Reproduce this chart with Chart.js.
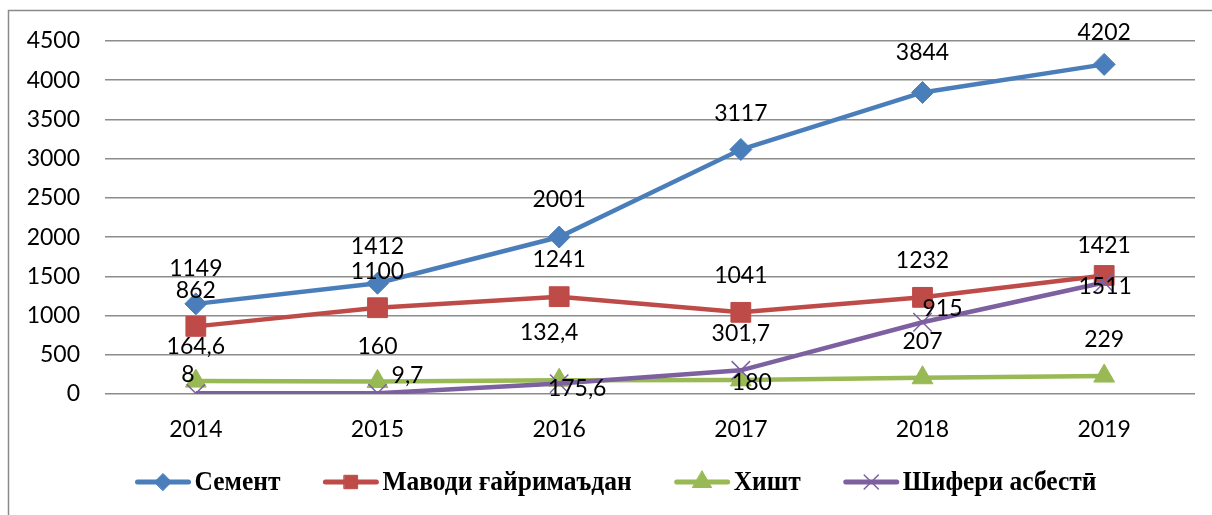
<!DOCTYPE html>
<html>
<head>
<meta charset="utf-8">
<script src="https://cdn.jsdelivr.net/npm/chart.js@4.4.1/dist/chart.umd.min.js"></script>
<style>
  html, body { margin: 0; padding: 0; background: #fff; }
  #wrap { position: relative; width: 1212px; height: 515px; }
</style>
</head>
<body>
<div id="wrap"><canvas id="c"></canvas></div>
<script>
// ---- data ----
const categories = ['2014', '2015', '2016', '2017', '2018', '2019'];
const seriesNames = ['Семент', 'Маводи ғайримаъдан', 'Хишт', 'Шифери асбестӣ'];
const cement  = [1149, 1412, 2001, 3117, 3844, 4202];
const mavodi  = [862, 1100, 1241, 1041, 1232, 1511];
const khisht  = [164.6, 160, 175.6, 180, 207, 229];
const shiferi = [8, 9.7, 132.4, 301.7, 915, 1421];
// data label texts as printed in the original
const cementLabels  = ['1149', '1412', '2001', '3117', '3844', '4202'];
const mavodiLabels  = ['862', '1100', '1241', '1041', '1232', '1421'];
const khishtLabels  = ['164,6', '160', '175,6', '180', '207', '229'];
const shiferiLabels = ['8', '9,7', '132,4', '301,7', '915', '1511'];
const yTicks = [0, 500, 1000, 1500, 2000, 2500, 3000, 3500, 4000, 4500];

// ---- styling ----
const colors = ['#4A7EBB', '#BE4B48', '#98B954', '#7D60A0'];
const labelShift = [
  [[0,-35],[0,-37],[0,-37],[0,-36],[0,-40],[0,-32]],
  [[0,-36],[0,-36],[0,-37],[0,-37],[0,-37],[0,-30]],
  [[0,-35],[0,-35],[18,8],[11,3],[0,-36],[0,-36]],
  [[-8,-19],[30,-18],[-10,-51],[0,-37],[20,-14],[1,4]]
];
const numFont = '23px Lato, "Open Sans", sans-serif';

const dataLabelPlugin = {
  id: 'dataLabels',
  afterDatasetsDraw(chart) {
    const ctx = chart.ctx;
    ctx.save();
    ctx.font = numFont;
    ctx.fillStyle = '#000';
    ctx.textAlign = 'center';
    ctx.textBaseline = 'middle';
    chart.data.datasets.forEach((ds, di) => {
      const meta = chart.getDatasetMeta(di);
      meta.data.forEach((pt, i) => {
        const s = labelShift[di][i];
        ctx.fillText(ds.labelTexts[i], pt.x + s[0], pt.y + s[1]);
      });
    });
    ctx.restore();
  }
};

const frameLegendPlugin = {
  id: 'frameLegend',
  beforeDraw(chart) {
    const ctx = chart.ctx;
    ctx.save();
    ctx.strokeStyle = '#8a8a8a';
    ctx.lineWidth = 1.5;
    ctx.beginPath();
    ctx.moveTo(8.5, 600);
    ctx.lineTo(8.5, 10.5);
    ctx.lineTo(1300, 10.5);
    ctx.stroke();
    ctx.restore();
  },
  afterDraw(chart) {
    const ctx = chart.ctx;
    const ds = chart.data.datasets;
    const lineLen = 55, gapText = 4, itemGap = 43, squeeze = 0.91;
    const cy = 482, centerX = 616;
    ctx.save();
    ctx.font = 'bold 28px "Liberation Serif", "DejaVu Serif", serif';
    const widths = ds.map(d => lineLen + gapText + ctx.measureText(d.label).width * squeeze);
    const total = widths.reduce((a, b) => a + b, 0) + itemGap * (ds.length - 1);
    let x = centerX - total / 2;
    ds.forEach((d, i) => {
      ctx.strokeStyle = d.borderColor;
      ctx.lineWidth = 5;
      ctx.lineCap = 'round';
      ctx.beginPath();
      ctx.moveTo(x + 2, cy);
      ctx.lineTo(x + lineLen - 2, cy);
      ctx.stroke();
      ctx.fillStyle = d.borderColor;
      ctx.strokeStyle = d.borderColor;
      ctx.lineWidth = d.pointBorderWidth;
      Chart.helpers.drawPoint(ctx, {
        pointStyle: d.pointStyle, radius: d.legendRadius, rotation: 0, borderWidth: d.pointBorderWidth
      }, x + lineLen / 2, cy);
      ctx.save();
      ctx.fillStyle = '#000';
      ctx.textAlign = 'left';
      ctx.textBaseline = 'middle';
      ctx.translate(x + lineLen + gapText, cy + 1);
      ctx.scale(squeeze, 1);
      ctx.fillText(d.label, 0, 0);
      ctx.restore();
      x += widths[i] + itemGap;
    });
    ctx.restore();
  }
};

function mkSet(i, data, labels, style, radius, legendRadius, bw, order) {
  return {
    label: seriesNames[i],
    data: data,
    labelTexts: labels,
    borderColor: colors[i],
    backgroundColor: colors[i],
    pointBackgroundColor: colors[i],
    pointBorderColor: colors[i],
    borderWidth: 4.5,
    pointStyle: style,
    pointRadius: radius,
    pointBorderWidth: bw,
    legendRadius: legendRadius,
    tension: 0,
    fill: false,
    order: order
  };
}

new Chart(document.getElementById('c'), {
  type: 'line',
  data: {
    labels: categories,
    datasets: [
      mkSet(0, cement, cementLabels, 'rectRot', 11, 8.5, 1, 3),
      mkSet(1, mavodi, mavodiLabels, 'rect', 14, 9.5, 1, 2),
      mkSet(2, khisht, khishtLabels, 'triangle', 12, 11, 1, 1),
      mkSet(3, shiferi, shiferiLabels, 'crossRot', 13, 10, 1.5, 0)
    ]
  },
  options: {
    responsive: true,
    maintainAspectRatio: false,
    animation: false,
    layout: { padding: { left: 8, top: 41, right: 17, bottom: 71 } },
    plugins: { legend: { display: false }, tooltip: { enabled: false } },
    scales: {
      x: {
        offset: true,
        grid: { display: false, drawTicks: false },
        border: { display: false },
        ticks: { color: '#000', font: { family: 'Lato', size: 23 }, padding: 22, maxRotation: 0 },
        afterFit(s) { s.height = 50; }
      },
      y: {
        min: 0, max: 4500,
        afterBuildTicks(s) { s.ticks = yTicks.map(v => ({ value: v })); },
        grid: { color: '#8c8c8c', lineWidth: 1.5, drawTicks: false },
        border: { display: false },
        ticks: { color: '#000', font: { family: 'Lato', size: 23 }, padding: 25, callback: v => String(v) },
        afterFit(s) { s.width = 97; }
      }
    }
  },
  plugins: [dataLabelPlugin, frameLegendPlugin]
});
</script>
</body>
</html>
